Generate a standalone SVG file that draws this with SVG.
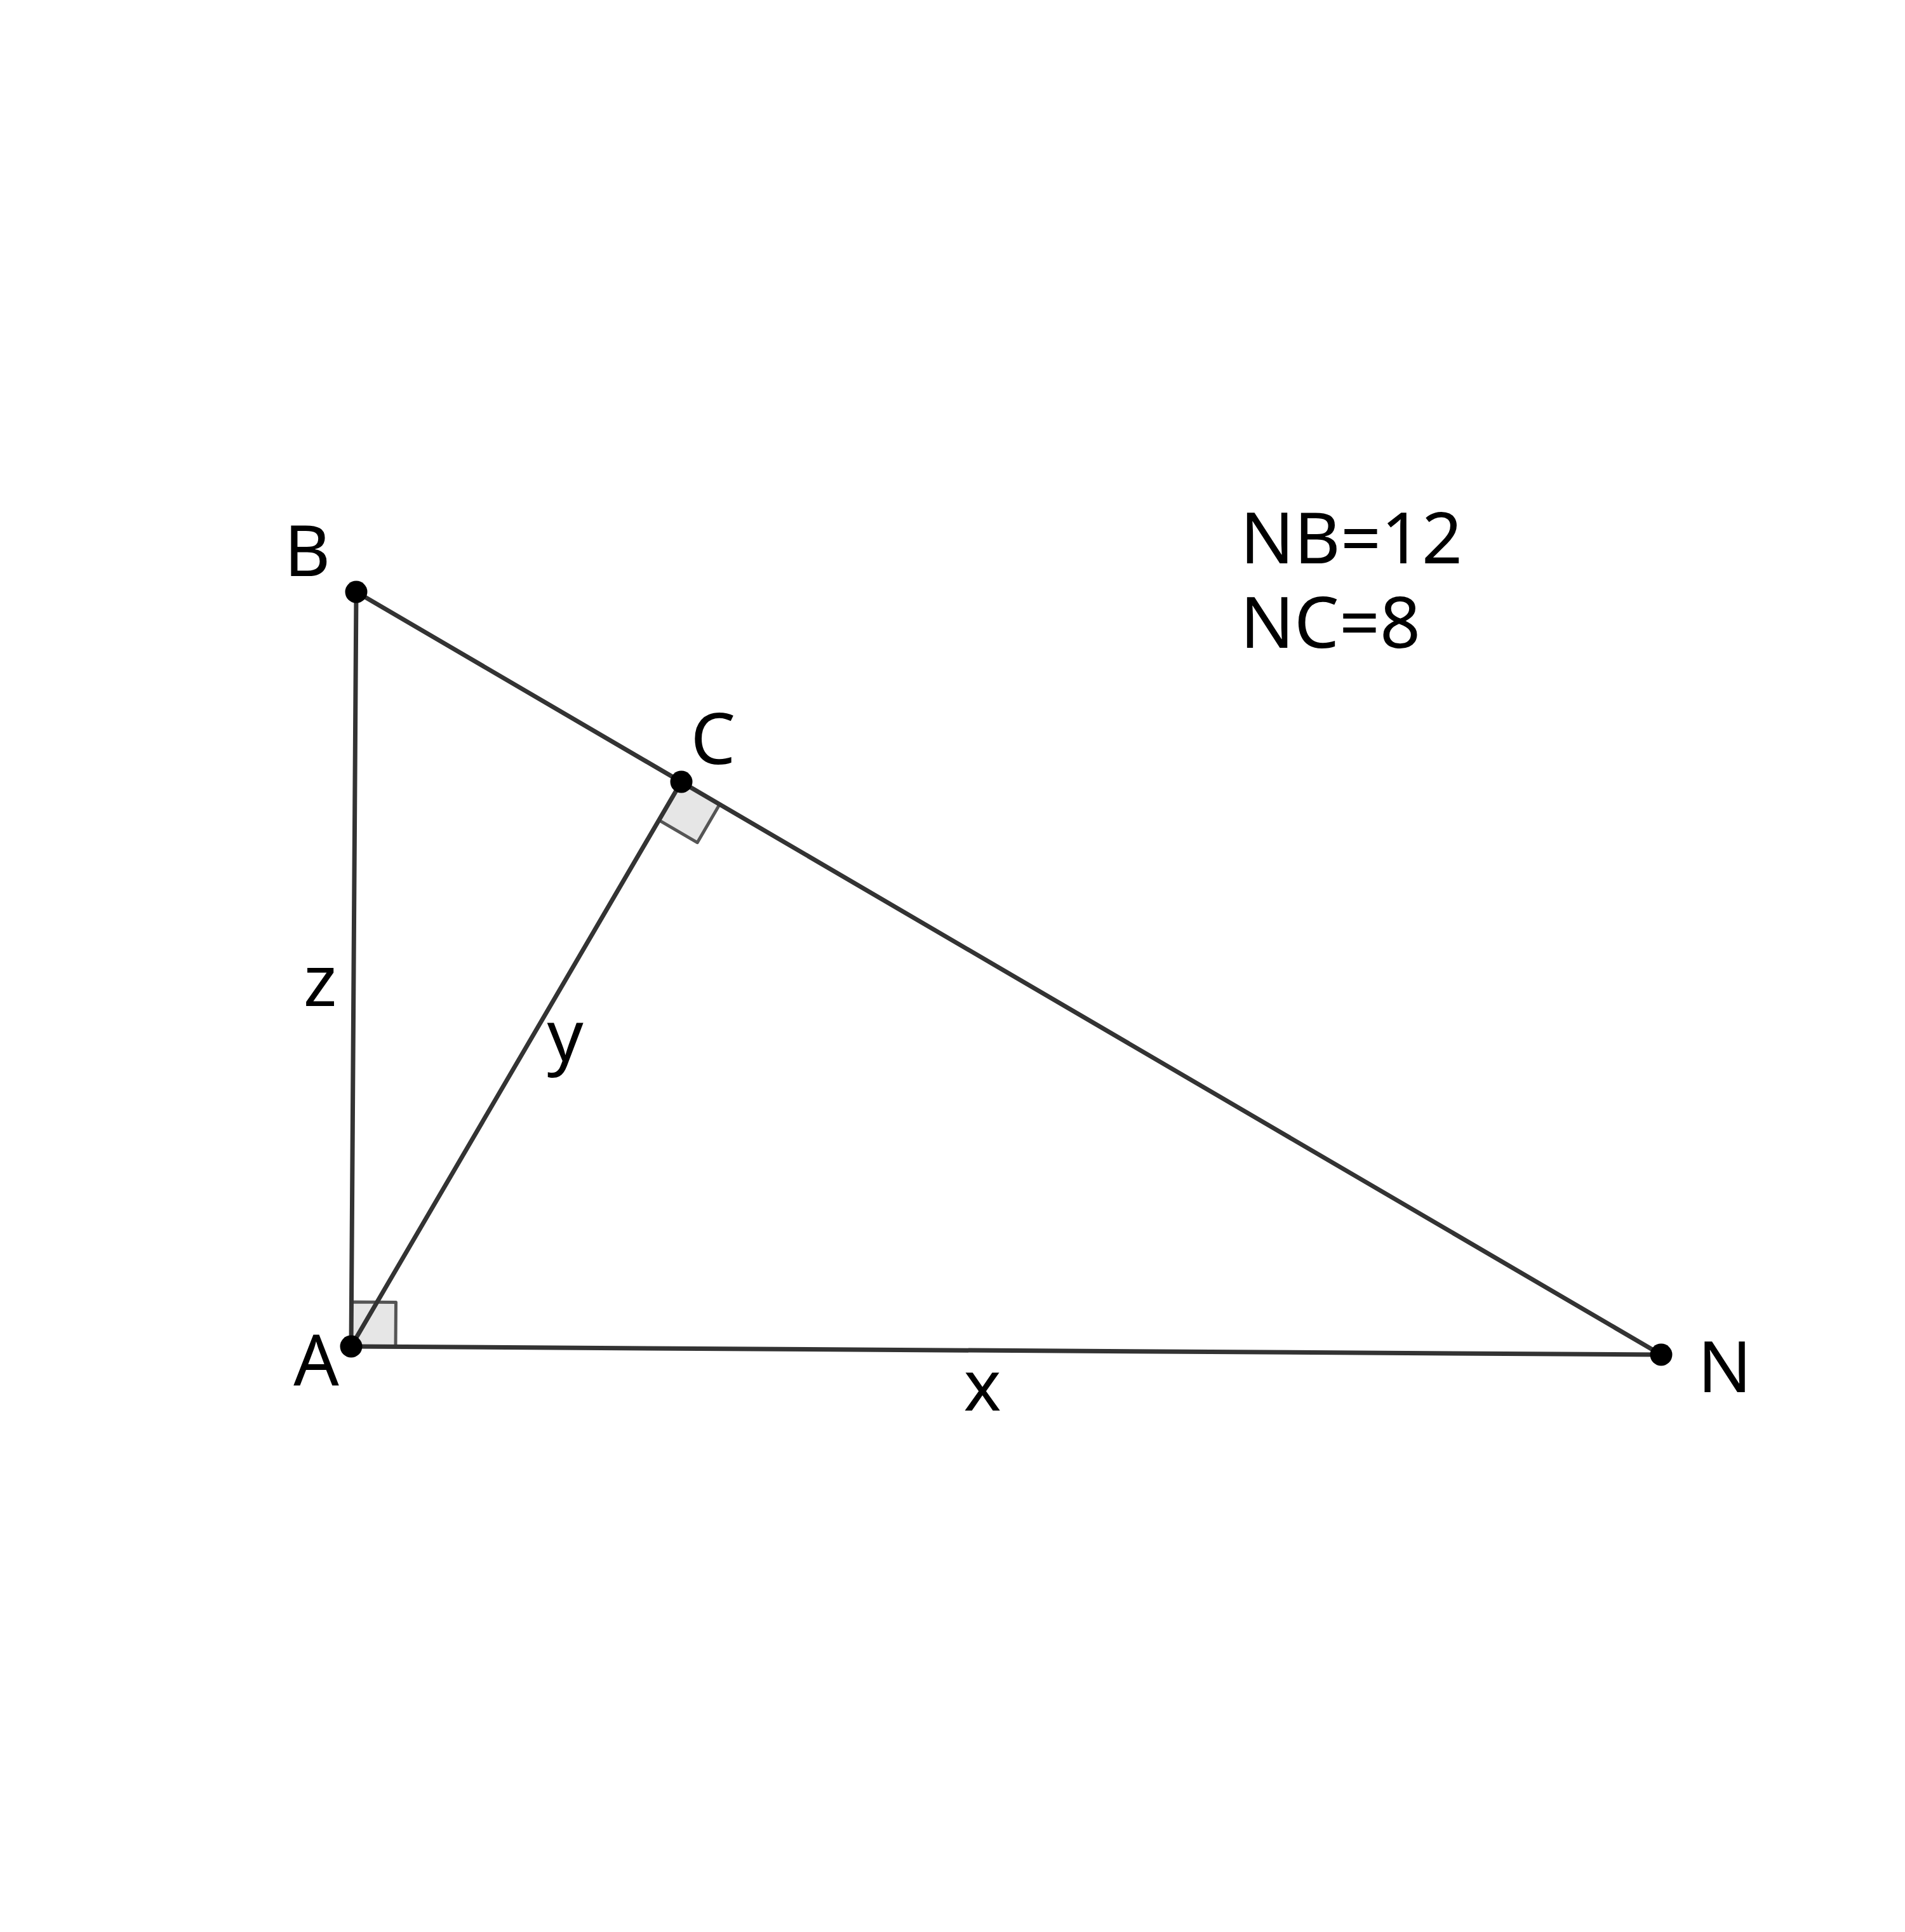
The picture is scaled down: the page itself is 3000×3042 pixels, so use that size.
<svg xmlns="http://www.w3.org/2000/svg" width="3000" height="3042" viewBox="0 0 3000 3042">
<style>
.seg{stroke:#333;stroke-width:7;fill:none;stroke-linecap:round}
.ra{fill:#e6e6e6;stroke:#555;stroke-width:5;stroke-linejoin:round}
.pt{fill:#000}
.lbl{font-family:"Noto Sans","Open Sans",sans-serif;font-size:112px;fill:#000}
</style>
<rect width="3000" height="3042" fill="#fff"/>
<g id="angles">
<polygon class="ra" points="553,2120 623,2120.5 623.5,2050.5 553.5,2050"/>
<polygon class="ra" points="1073,1231 1133.4,1266.3 1098.1,1326.7 1037.7,1291.4"/>
</g>
<g id="connectors">
<line class="seg" x1="561" y1="932" x2="553" y2="2120"/>
<line class="seg" x1="561" y1="932" x2="2616" y2="2133"/>
<line class="seg" x1="1073" y1="1231" x2="553" y2="2120"/>
<line class="seg" x1="553" y1="2120" x2="2616" y2="2133"/>
</g>
<g id="node-B"><circle class="pt" cx="561" cy="932" r="17.5"/><text class="lbl" x="484" y="907" text-anchor="middle">B</text></g>
<g id="node-A"><circle class="pt" cx="553" cy="2120" r="17.5"/><text class="lbl" x="498" y="2182" text-anchor="middle">A</text></g>
<g id="node-N"><circle class="pt" cx="2616" cy="2133" r="17.5"/><text class="lbl" x="2716" y="2192" text-anchor="middle">N</text></g>
<g id="node-C"><circle class="pt" cx="1073" cy="1231" r="17.5"/><text class="lbl" x="1123" y="1203" text-anchor="middle">C</text></g>
<g id="labels">
<text class="lbl" x="504" y="1584" text-anchor="middle">z</text>
<text class="lbl" x="890" y="1670" text-anchor="middle">y</text>
<text class="lbl" x="1547" y="2221" text-anchor="middle">x</text>
<text class="lbl" x="1953" y="887">NB=12</text>
<text class="lbl" x="1953" y="1020">NC=8</text>
</g>
</svg>
